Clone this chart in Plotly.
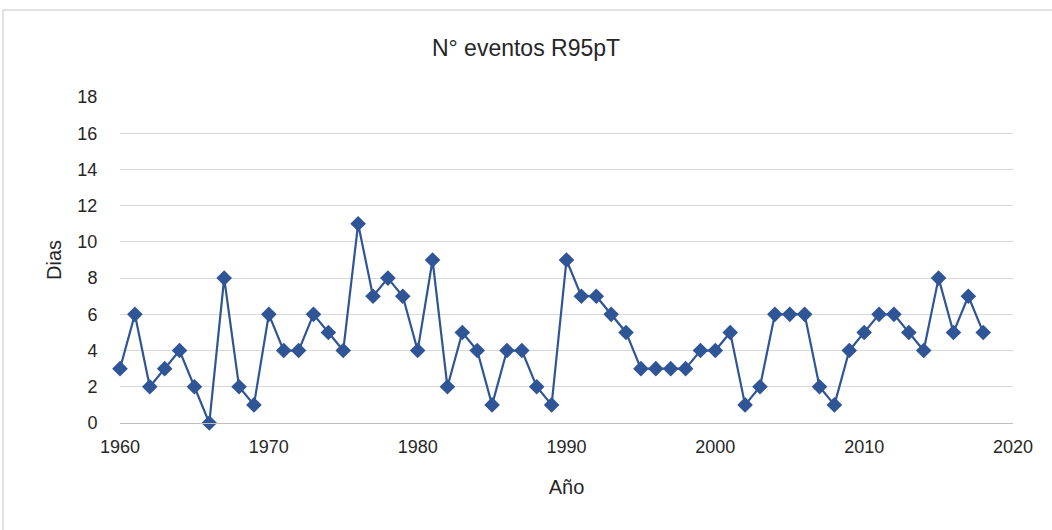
import plotly.graph_objects as go

# Número de eventos R95pT por año
years = list(range(1960, 2019))
events = [3, 6, 2, 3, 4, 2, 0, 8, 2, 1,
          6, 4, 4, 6, 5, 4, 11, 7, 8, 7,
          4, 9, 2, 5, 4, 1, 4, 4, 2, 1,
          9, 7, 7, 6, 5, 3, 3, 3, 3, 4,
          4, 5, 1, 2, 6, 6, 6, 2, 1, 4,
          5, 6, 6, 5, 4, 8, 5, 7, 5]

x_ticks = [1960, 1970, 1980, 1990, 2000, 2010, 2020]
y_ticks = list(range(0, 20, 2))

blue = "#2F5597"
font = "Liberation Sans, Arial, sans-serif"

fig = go.Figure()
fig.add_trace(go.Scatter(
    x=years,
    y=events,
    mode="lines+markers",
    line=dict(color=blue, width=2.2),
    marker=dict(symbol="diamond", size=12, color=blue),
    cliponaxis=False,  # keep edge markers whole
    showlegend=False,
))

fig.update_xaxes(
    range=[1960, 2020],
    tickvals=x_ticks,
    showgrid=False,
    showline=True,
    linecolor="#bfbfbf",
    linewidth=1,
    ticks="outside",
    ticklen=7,
    tickcolor="rgba(0,0,0,0)",
    tickfont=dict(size=18, color="#262626"),
    title=dict(text="Año", font=dict(size=20, color="#262626"), standoff=24),
    zeroline=False,
)
fig.update_yaxes(
    range=[0, 18],
    tickvals=y_ticks,
    showgrid=True,
    gridcolor="#d9d9d9",
    gridwidth=1,
    showline=False,
    ticks="outside",
    ticklen=18,
    tickcolor="rgba(0,0,0,0)",
    tickfont=dict(size=18, color="#262626"),
    title=dict(text="Dias", font=dict(size=20, color="#262626"), standoff=10),
    zeroline=False,
)

fig.update_layout(
    width=1052,
    height=530,
    margin=dict(l=120, r=39, t=97, b=107),
    paper_bgcolor="white",
    plot_bgcolor="white",
    font=dict(family=font),
    title=dict(text="N° eventos R95pT", x=0.5, xanchor="center",
               y=0.91, yanchor="middle",
               font=dict(size=23, color="#262626")),
    shapes=[dict(type="rect", xref="paper", yref="paper",
                 x0=-0.131, x1=1.05, y0=-0.34, y1=1.267,
                 line=dict(color="#d9d9d9", width=1.5),
                 fillcolor="rgba(0,0,0,0)", layer="below")],
)

fig.write_html("out.html", config={"displayModeBar": False},
               post_script="document.body.style.margin='0';")
